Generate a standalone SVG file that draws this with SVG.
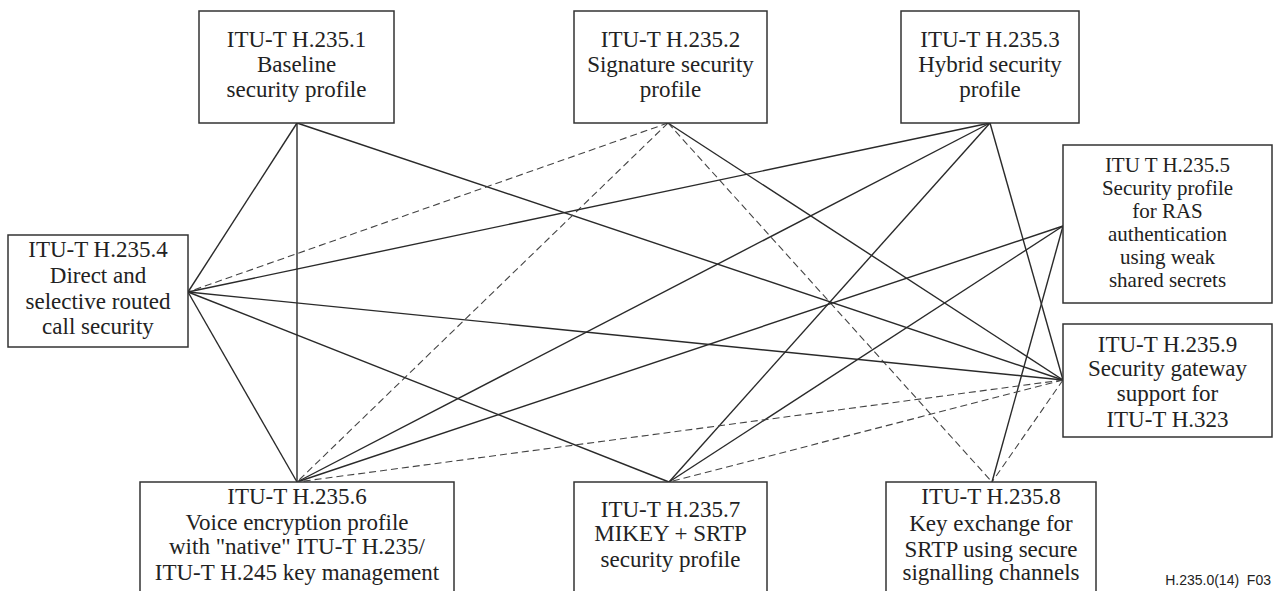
<svg xmlns="http://www.w3.org/2000/svg" width="1279" height="591" viewBox="0 0 1279 591">
<style>
.bg{fill:#fff}
.box{fill:#fff;stroke:#333;stroke-width:1.5}
.t{font-family:"Liberation Serif","Times New Roman",serif;font-size:23px;fill:#222;text-anchor:middle}
.t5{font-size:21px}
.s{stroke:#2a2a2a;stroke-width:1.4;fill:none}
.d{stroke:#444;stroke-width:1.1;stroke-dasharray:7 4;fill:none}
.lab{font-family:"Liberation Sans",Arial,sans-serif;font-size:14px;fill:#222;text-anchor:end;white-space:pre}
</style>
<rect class="bg" x="0" y="0" width="1279" height="591"/>
<g id="connectors">
<line class="s" x1="297" y1="123" x2="188" y2="292"/>
<line class="s" x1="297" y1="123" x2="297" y2="482"/>
<line class="s" x1="297" y1="123" x2="1063" y2="380"/>
<line class="d" x1="668" y1="123" x2="188" y2="292"/>
<line class="d" x1="668" y1="123" x2="297" y2="482"/>
<line class="s" x1="668" y1="123" x2="1063" y2="380"/>
<line class="d" x1="668" y1="123" x2="992" y2="482"/>
<line class="s" x1="990" y1="123" x2="188" y2="292"/>
<line class="s" x1="990" y1="123" x2="297" y2="482"/>
<line class="s" x1="990" y1="123" x2="669" y2="482"/>
<line class="s" x1="990" y1="123" x2="1063" y2="380"/>
<line class="s" x1="188" y1="292" x2="297" y2="482"/>
<line class="s" x1="188" y1="292" x2="669" y2="482"/>
<line class="s" x1="188" y1="292" x2="1063" y2="380"/>
<line class="s" x1="1063" y1="226" x2="297" y2="482"/>
<line class="s" x1="1063" y1="226" x2="669" y2="482"/>
<line class="s" x1="1063" y1="226" x2="992" y2="482"/>
<line class="d" x1="1063" y1="380" x2="297" y2="482"/>
<line class="d" x1="1063" y1="380" x2="669" y2="482"/>
<line class="d" x1="1063" y1="380" x2="992" y2="482"/>
</g>
<g id="n1">
<rect class="box" x="199" y="11" width="195" height="112"/>
<text class="t" x="296.5" y="47">ITU-T H.235.1</text>
<text class="t" x="296.5" y="72">Baseline</text>
<text class="t" x="296.5" y="97">security profile</text>
</g>
<g id="n2">
<rect class="box" x="574" y="11" width="193" height="112"/>
<text class="t" x="670.5" y="47">ITU-T H.235.2</text>
<text class="t" x="670.5" y="72">Signature security</text>
<text class="t" x="670.5" y="97">profile</text>
</g>
<g id="n3">
<rect class="box" x="901" y="11" width="178" height="112"/>
<text class="t" x="990" y="47">ITU-T H.235.3</text>
<text class="t" x="990" y="72">Hybrid security</text>
<text class="t" x="990" y="97">profile</text>
</g>
<g id="n4">
<rect class="box" x="8" y="235" width="180" height="112"/>
<text class="t" x="98" y="257">ITU-T H.235.4</text>
<text class="t" x="98" y="283">Direct and</text>
<text class="t" x="98" y="309">selective routed</text>
<text class="t" x="98" y="334">call security</text>
</g>
<g id="n5">
<rect class="box" x="1063" y="145" width="209" height="158"/>
<text class="t t5" x="1167.5" y="172">ITU T H.235.5</text>
<text class="t t5" x="1167.5" y="195">Security profile</text>
<text class="t t5" x="1167.5" y="218">for RAS</text>
<text class="t t5" x="1167.5" y="241">authentication</text>
<text class="t t5" x="1167.5" y="264">using weak</text>
<text class="t t5" x="1167.5" y="287">shared secrets</text>
</g>
<g id="n9">
<rect class="box" x="1063" y="324" width="209" height="113"/>
<text class="t" x="1167.5" y="352">ITU-T H.235.9</text>
<text class="t" x="1167.5" y="376">Security gateway</text>
<text class="t" x="1167.5" y="401">support for</text>
<text class="t" x="1167.5" y="427">ITU-T H.323</text>
</g>
<g id="n6">
<rect class="box" x="140" y="482" width="314" height="120"/>
<text class="t" x="297" y="504">ITU-T H.235.6</text>
<text class="t" x="297" y="530">Voice encryption profile</text>
<text class="t" x="297" y="554">with "native" ITU-T H.235/</text>
<text class="t" x="297" y="580">ITU-T H.245 key management</text>
</g>
<g id="n7">
<rect class="box" x="574" y="482" width="193" height="120"/>
<text class="t" x="670.5" y="517">ITU-T H.235.7</text>
<text class="t" x="670.5" y="541">MIKEY + SRTP</text>
<text class="t" x="670.5" y="567">security profile</text>
</g>
<g id="n8">
<rect class="box" x="886" y="482" width="210" height="120"/>
<text class="t" x="991" y="504">ITU-T H.235.8</text>
<text class="t" x="991" y="531">Key exchange for</text>
<text class="t" x="991" y="557">SRTP using secure</text>
<text class="t" x="991" y="580">signalling channels</text>
</g>
<text class="lab" x="1271" y="585">H.235.0(14)&#160; F03</text>
</svg>
